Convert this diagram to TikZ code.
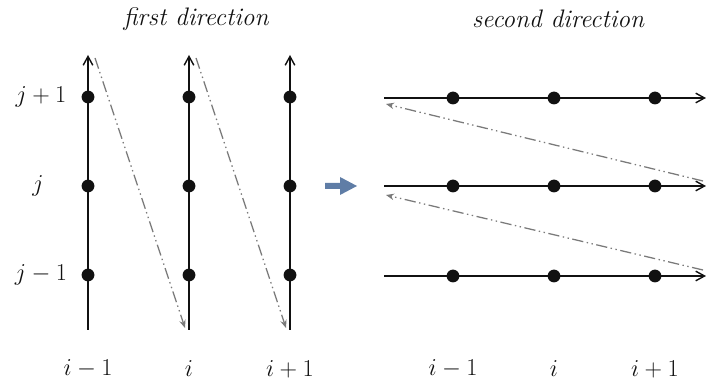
\documentclass[tikz,border=0pt]{standalone}
\usetikzlibrary{arrows.meta}
\definecolor{gink}{HTML}{111111}
\definecolor{gpath}{HTML}{7A7A7A}
\definecolor{gshift}{HTML}{5F7DA6}

\begin{document}
\begin{tikzpicture}[
  x=0.025cm, y=-0.025cm,
  axis/.style={draw=gink, line width=1pt, -{Straight Barb[length=2.2mm, width=2.4mm]}},
  point/.style={circle, fill=gink, inner sep=0pt, minimum size=0.32cm},
  sweep/.style={
    draw=gpath,
    line width=0.9pt,
    dash pattern=on 8pt off 2.5pt on 1pt off 2.5pt on 1pt off 2.5pt,
    -{Stealth[length=2mm, width=1.6mm]}
  },
  label/.style={font=\fontsize{16.5}{19}\selectfont, text=gink},
  heading/.style={font=\fontsize{18}{21}\selectfont\itshape, text=gink}
]
\useasboundingbox (0,0) rectangle (706,386);

% first direction
\node[heading] (title1) at (196,19) {first direction};

\coordinate (c1top) at (88,55);
\coordinate (c1bot) at (88,330);
\coordinate (c2top) at (189,55);
\coordinate (c2bot) at (189,330);
\coordinate (c3top) at (290,55);
\coordinate (c3bot) at (290,330);
\draw[axis] (c1bot) -- (c1top);
\draw[axis] (c2bot) -- (c2top);
\draw[axis] (c3bot) -- (c3top);

\foreach \c/\x in {1/88, 2/189, 3/290}
  \foreach \r/\y in {1/275, 2/186, 3/97}
    \node[point] (a\c\r) at (\x,\y) {};

\coordinate (s1) at (95,58);
\coordinate (e1) at (185,328);
\coordinate (s2) at (196,58);
\coordinate (e2) at (286,328);
\draw[sweep] (s1) -- (e1);
\draw[sweep] (s2) -- (e2);

\node[label] (jp) at (41,97) {$j+1$};
\node[label] (jj) at (38,186) {$j$};
\node[label] (jm) at (41,275) {$j-1$};

\node[label] (ai1) at (88,369) {$i-1$};
\node[label] (ai2) at (189,369) {$i$};
\node[label] (ai3) at (290,369) {$i+1$};

% change of direction
\fill[gshift] (325,183) -- (340,183) -- (340,177) -- (357,186)
  -- (340,195) -- (340,189) -- (325,189) -- cycle;

% second direction
\node[heading] (title2) at (558,19) {second direction};

\coordinate (r3left) at (384,98);
\coordinate (r3right) at (706,98);
\coordinate (r2left) at (384,186);
\coordinate (r2right) at (706,186);
\coordinate (r1left) at (384,276);
\coordinate (r1right) at (706,276);
\draw[axis] (r3left) -- (r3right);
\draw[axis] (r2left) -- (r2right);
\draw[axis] (r1left) -- (r1right);

\foreach \c/\x in {1/453, 2/554, 3/655}
  \foreach \r/\y in {1/276, 2/186, 3/98}
    \node[point] (b\c\r) at (\x,\y) {};

\coordinate (t1) at (703,181);
\coordinate (f1) at (386,104);
\coordinate (t2) at (703,270);
\coordinate (f2) at (386,195);
\draw[sweep] (t1) -- (f1);
\draw[sweep] (t2) -- (f2);

\node[label] (bi1) at (453,369) {$i-1$};
\node[label] (bi2) at (554,369) {$i$};
\node[label] (bi3) at (655,369) {$i+1$};

\end{tikzpicture}
\end{document}
